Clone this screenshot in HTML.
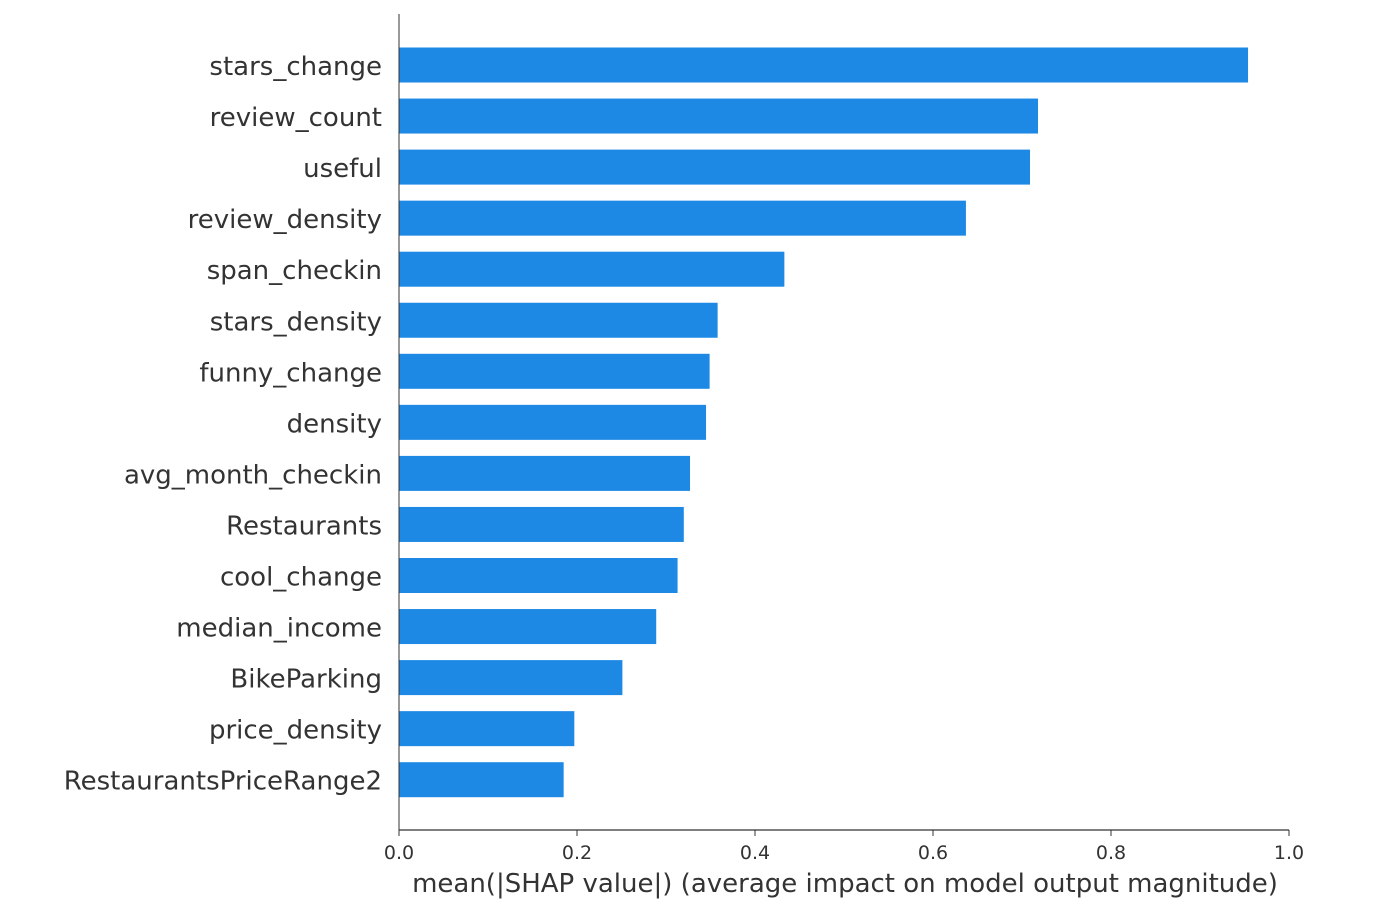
<!DOCTYPE html>
<html><head><meta charset="utf-8"><style>
body{margin:0;background:#fff;}
svg text{font-family:"DejaVu Sans","Liberation Sans",sans-serif;}
</style></head><body>
<svg id="chart" width="1398" height="916" xmlns="http://www.w3.org/2000/svg"></svg>
<script>
const features=["stars_change","review_count","useful","review_density","span_checkin","stars_density","funny_change","density","avg_month_checkin","Restaurants","cool_change","median_income","BikeParking","price_density","RestaurantsPriceRange2"];
const values=[0.954,0.718,0.709,0.637,0.433,0.358,0.349,0.345,0.327,0.320,0.313,0.289,0.251,0.197,0.185];
const ticks=[0,0.2,0.4,0.6,0.8,1.0];
const tickLabels=["0.0","0.2","0.4","0.6","0.8","1.0"];
const NS="http://www.w3.org/2000/svg";
const svg=document.getElementById('chart');
const x0=399,x1=1289,axisY=830;
const xs=v=>x0+(x1-x0)*v;
const ys=i=>65+i*51.05;
function mk(t,a,p){const e=document.createElementNS(NS,t);for(const k in a)e.setAttribute(k,a[k]);(p||svg).appendChild(e);return e;}
features.forEach((f,i)=>{
 const r=mk('rect',{x:xs(0),y:ys(i)-17.5,width:xs(values[i])-xs(0),height:35,fill:'#1E88E5'});
 
 
 const t=mk('text',{x:382,y:ys(i)+10,'text-anchor':'end','font-size':26,fill:'#333'});
 t.textContent=f;
 
 
});
const sp=mk('line',{x1:x0,y1:14,x2:x0,y2:axisY,stroke:'#333','stroke-width':1});


const ax=mk('line',{x1:x0,y1:axisY,x2:x1,y2:axisY,stroke:'#333','stroke-width':1.2});


ticks.forEach((v,i)=>{
 const l=mk('line',{x1:xs(v),y1:axisY,x2:xs(v),y2:axisY+6,stroke:'#333'});
 
 
 const t=mk('text',{x:xs(v),y:859,'text-anchor':'middle','font-size':19,fill:'#333'});
 t.textContent=tickLabels[i];
 
 
});
const xt=mk('text',{x:845,y:892,'text-anchor':'middle','font-size':26,fill:'#333'});
xt.textContent="mean(|SHAP value|) (average impact on model output magnitude)";


</script>
</body></html>
